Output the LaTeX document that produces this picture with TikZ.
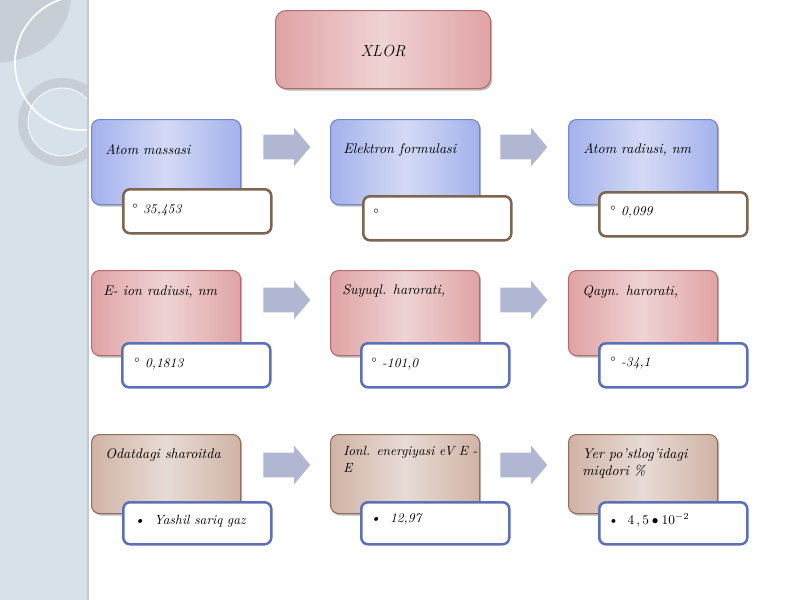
\documentclass[tikz,border=0pt]{standalone}
\usetikzlibrary{shapes.arrows,shadows}
\definecolor{panel}{HTML}{D7E1EA}
\definecolor{lens}{HTML}{C8CED5}
\definecolor{ringc}{HTML}{C8CED6}
\definecolor{bluee}{HTML}{A3B1EC}
\definecolor{bluec}{HTML}{D4DAF5}
\definecolor{blued}{HTML}{7085CB}
\definecolor{pinke}{HTML}{E0A3A4}
\definecolor{pinkc}{HTML}{EFD3D4}
\definecolor{pinkd}{HTML}{B46D6F}
\definecolor{browne}{HTML}{D1B3A5}
\definecolor{brownc}{HTML}{E7DBD5}
\definecolor{brownd}{HTML}{8E6F5B}
\definecolor{vbrown}{HTML}{7D6550}
\definecolor{vblue}{HTML}{5B70B9}
\definecolor{arrowc}{HTML}{B1B6D3}
\begin{document}
\begin{tikzpicture}[x=0.75pt,y=-0.75pt,
  box/.style={draw, rounded corners=6pt, line width=0.8pt, anchor=north west, inner sep=0pt,
    minimum width=111.75pt, minimum height=63.75pt,
    drop shadow={shadow xshift=1.2pt, shadow yshift=-1.5pt, opacity=0.45, fill=black!60}},
  bluebox/.style={box, draw=blued, left color=bluee, right color=bluee, middle color=bluec},
  pinkbox/.style={box, draw=pinkd, left color=pinke, right color=pinke, middle color=pinkc},
  brownbox/.style={box, draw=brownd, left color=browne, right color=browne, middle color=brownc, minimum height=59.25pt},
  val/.style={draw, fill=white, rounded corners=5pt, line width=1.9pt, anchor=north west, inner sep=0pt,
    minimum width=111pt, minimum height=33pt},
  valbrown/.style={val, draw=vbrown},
  valblue/.style={val, draw=vblue},
  lab/.style={anchor=west, inner sep=0pt, font=\fontsize{10.5}{13}\selectfont\itshape},
  lab2/.style={anchor=north west, inner sep=0pt, align=left, font=\fontsize{10.5}{12.75}\selectfont\itshape},
  vtxt/.style={anchor=west, inner sep=0pt, font=\fontsize{10}{12}\selectfont\itshape},
  arr/.style={single arrow, fill=arrowc, draw=none, minimum height=35.25pt, minimum width=0pt,
    inner xsep=0pt, inner ysep=9pt, single arrow head extend=5.25pt, single arrow tip angle=100, anchor=tail}
]
\useasboundingbox (0,0) rectangle (800,600);
\fill[white] (0,0) rectangle (800,600);
% left decorative panel
\begin{scope}
  \clip (0,0) rectangle (88,600);
  \fill[panel] (0,0) rectangle (88,600);
  \fill[lens] (0,0) -- (71,0) .. controls (66,38) and (40,58) .. (0,63) -- cycle;
  \draw[ringc, line width=7.5pt] (62,122) circle[radius=39];
  \draw[white, line width=0.6pt] (62,122) circle[radius=34];
  \draw[white, line width=1.3pt] (82,63) circle[radius=67];
\end{scope}
\draw[black!22, line width=1pt] (88,0) -- (88,600);

% title
\node[pinkbox, rounded corners=8pt, minimum width=161.25pt, minimum height=58.5pt] (xlor) at (275,10) {};
\node[font=\fontsize{12}{14}\selectfont\itshape, inner sep=0pt] (xlort) at (383,51) {XLOR};

% row 1
\node[bluebox] (b11) at (91,119) {};
\node[bluebox] (b12) at (330,119) {};
\node[bluebox] (b13) at (568,119) {};
\node[lab] (l11) at (105,150) {Atom massasi};
\node[lab] (l12) at (343,150) {Elektron formulasi};
\node[lab] (l13) at (583,150) {Atom radiusi, nm};
\node[arr] (r11) at (263,147) {};
\node[arr] (r12) at (500,147) {};
\node[valbrown] (v11) at (122,188) {};
\node[valbrown] (v12) at (362,195) {};
\node[valbrown] (v13) at (598,191) {};
\node[vtxt] (w11) at (132,210) {$^{\circ}$\ 35,453};
\node[vtxt] (w12) at (373,214) {$^{\circ}$};
\node[vtxt] (w13) at (610,212) {$^{\circ}$\ 0,099};

% row 2
\node[pinkbox] (b21) at (91,270) {};
\node[pinkbox] (b22) at (330,270) {};
\node[pinkbox] (b23) at (568,270) {};
\node[lab] (l21) at (103,292) {E- ion radiusi, nm};
\node[lab] (l22) at (342,291) {Suyuql. harorati,};
\node[lab] (l23) at (582,292) {Qayn. harorati,};
\node[arr] (r21) at (263,300) {};
\node[arr] (r22) at (500,300) {};
\node[valblue] (v21) at (121,342) {};
\node[valblue] (v22) at (360,342) {};
\node[valblue] (v23) at (598,342) {};
\node[vtxt] (w21) at (134,364) {$^{\circ}$\ 0,1813};
\node[vtxt] (w22) at (371,364) {$^{\circ}$\ -101,0};
\node[vtxt] (w23) at (610,363) {$^{\circ}$\ -34,1};

% row 3
\node[brownbox] (b31) at (91,434) {};
\node[brownbox] (b32) at (330,434) {};
\node[brownbox] (b33) at (568,434) {};
\node[lab] (l31) at (105,455) {Odatdagi sharoitda};
\node[lab2, font=\fontsize{10}{12.75}\selectfont\itshape] (l32) at (343,446) {Ionl. energiyasi eV E -\\E};
\node[lab2] (l33) at (582,449) {Yer po'stlog'idagi\\miqdori \%};
\node[arr] (r31) at (263,465) {};
\node[arr] (r32) at (500,465) {};
\node[valblue, minimum height=31.5pt] (v31) at (122,501) {};
\node[valblue, minimum height=31.5pt] (v32) at (360,501) {};
\node[valblue, minimum height=31.5pt] (v33) at (598,501) {};
\node[vtxt] (w31) at (134,521) {\textbullet\ \ Yashil sariq gaz};
\node[vtxt] (w32) at (370,519) {\textbullet\ \ 12,97};
\node[vtxt, font=\fontsize{10}{12}\selectfont] (w33) at (608,520) {\textbullet\ \ $4\,,5\bullet10^{-2}$};
\end{tikzpicture}
\end{document}
